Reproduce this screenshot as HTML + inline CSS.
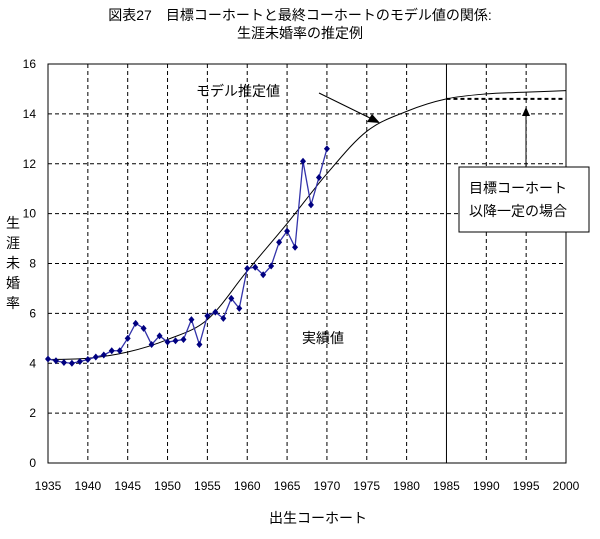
<!DOCTYPE html>
<html><head><meta charset="utf-8"><style>
body{margin:0;background:#fff}
svg text{font-family:"Liberation Sans","Noto Sans CJK JP",sans-serif}
</style></head><body>
<svg id="c" width="600" height="534" xmlns="http://www.w3.org/2000/svg">
<text x="300" y="20" font-size="14" text-anchor="middle">図表27　目標コーホートと最終コーホートのモデル値の関係:</text>
<text x="300" y="38" font-size="14" text-anchor="middle">生涯未婚率の推定例</text>
<g id="grid"></g><g id="axes"></g><g id="series"></g>
<text x="318" y="523" font-size="14" text-anchor="middle">出生コーホート</text>
<text font-size="14" text-anchor="middle"><tspan x="13" y="228">生</tspan><tspan x="13" y="248">涯</tspan><tspan x="13" y="268">未</tspan><tspan x="13" y="288">婚</tspan><tspan x="13" y="308">率</tspan></text>
<text x="196" y="96" font-size="14">モデル推定値</text>
<line x1="319" y1="93" x2="372" y2="119" stroke="#000"/>
<polygon points="380,123 367,122 372,114" fill="#000"/>
<text x="302" y="343" font-size="14">実績値</text>
<rect x="459" y="167" width="130" height="65" fill="#fff" stroke="#000"/>
<text x="469" y="193" font-size="14">目標コーホート</text>
<text x="469" y="216" font-size="14">以降一定の場合</text>
<line x1="526" y1="167" x2="526" y2="116" stroke="#000"/>
<polygon points="526,107 522,116 530,116" fill="#000"/>
</svg>
<script>
const xTicks=[1935,1940,1945,1950,1955,1960,1965,1970,1975,1980,1985,1990,1995,2000];
const yTicks=[0,2,4,6,8,10,12,14,16];
const actualYears=[1935,1936,1937,1938,1939,1940,1941,1942,1943,1944,1945,1946,1947,1948,1949,1950,1951,1952,1953,1954,1955,1956,1957,1958,1959,1960,1961,1962,1963,1964,1965,1966,1967,1968,1969,1970];
const actualValues=[4.17,4.1,4.03,4.0,4.07,4.15,4.25,4.33,4.5,4.5,5.0,5.6,5.4,4.75,5.1,4.85,4.9,4.95,5.75,4.75,5.9,6.05,5.8,6.6,6.2,7.8,7.85,7.55,7.9,8.85,9.3,8.65,12.1,10.35,11.45,12.6];
const modelYears=[1935,1940,1945,1950,1955,1960,1965,1970,1975,1980,1985,1990,1995,2000];
const modelValues=[4.15,4.2,4.45,4.95,5.75,7.7,9.6,11.6,13.3,14.1,14.6,14.8,14.87,14.93];
const constYears=[1985,2000];
const constValues=[14.6,14.6];
const NS='http://www.w3.org/2000/svg';
const X=v=>48+(v-1935)*(566-48)/65;
const Y=v=>463-v*(463-64)/16;
function mk(t,a,p){const e=document.createElementNS(NS,t);for(const k in a)e.setAttribute(k,a[k]);p.appendChild(e);return e;}
const grid=document.getElementById('grid'),axes=document.getElementById('axes'),ser=document.getElementById('series');
xTicks.forEach(t=>{
 if(t>1935&&t<2000){const l=mk('line',{x1:X(t),x2:X(t),y1:Y(16),y2:Y(0),stroke:'#000','stroke-dasharray':t==1985?'none':'4,3'},grid);
 
 }
 const tx=mk('text',{x:X(t),y:490,'font-size':12,'text-anchor':'middle'},axes);tx.textContent=t;
 
 
});
yTicks.forEach(t=>{
 if(t>0&&t<16){const l=mk('line',{x1:X(1935),x2:X(2000),y1:Y(t),y2:Y(t),stroke:'#000','stroke-dasharray':'4,3'},grid);
 
 }
 const tx=mk('text',{x:36,y:Y(t)+4,'font-size':12,'text-anchor':'end'},axes);tx.textContent=t;
 
 
});
const fr=mk('rect',{x:X(1935),y:Y(16),width:X(2000)-X(1935),height:Y(0)-Y(16),fill:'none',stroke:'#000'},axes);


// model curve (catmull-rom)
const pts=modelYears.map((y,i)=>[X(y),Y(modelValues[i])]);
let d='M'+pts[0];
for(let i=0;i<pts.length-1;i++){const p0=pts[i-1]||pts[i],p1=pts[i],p2=pts[i+1],p3=pts[i+2]||p2;
 d+=` C${p1[0]+(p2[0]-p0[0])/6},${p1[1]+(p2[1]-p0[1])/6} ${p2[0]-(p3[0]-p1[0])/6},${p2[1]-(p3[1]-p1[1])/6} ${p2[0]},${p2[1]}`;}
const mc=mk('path',{d:d,fill:'none',stroke:'#000','stroke-width':1},ser);


const cl=mk('line',{x1:X(constYears[0]),x2:X(constYears[1]),y1:Y(constValues[0]),y2:Y(constValues[1]),stroke:'#000','stroke-width':2,'stroke-dasharray':'4,3'},ser);


const al=mk('polyline',{points:actualYears.map((y,i)=>X(y)+','+Y(actualValues[i])).join(' '),fill:'none',stroke:'#3333aa','stroke-width':1.3},ser);


actualYears.forEach((y,i)=>{const cx=X(y),cy=Y(actualValues[i]);
 const m=mk('polygon',{points:`${cx},${cy-3.5} ${cx+3},${cy} ${cx},${cy+3.5} ${cx-3},${cy}`,fill:'#000080'},ser);
 
 
});
</script>
</body></html>
